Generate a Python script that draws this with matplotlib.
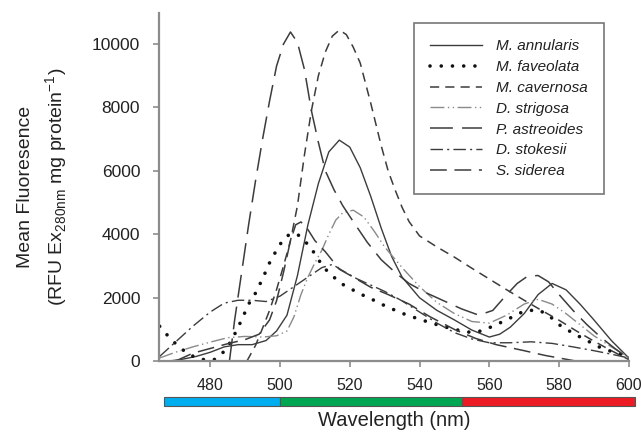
import matplotlib
matplotlib.use("Agg")
import matplotlib.pyplot as plt
import matplotlib.transforms as mtransforms
from matplotlib.patches import Rectangle

plt.rcParams['font.family'] = ['Liberation Sans', 'DejaVu Sans']

# emission spectra (wavelength nm, RFU)
wl_annularis = [468, 472, 476, 480, 484, 488, 492, 496, 499, 502, 505, 508, 511, 514, 517, 520, 523, 526,
                529, 532, 535, 540, 545, 550, 555, 560, 563, 566, 570, 574, 578, 582, 586, 590, 595, 600]
fl_annularis = [0, 60, 150, 280, 450, 520, 520, 650, 950, 1450, 2700, 4300, 5600, 6600, 6970, 6750, 6100, 5200,
                4200, 3300, 2650, 2000, 1600, 1300, 980, 760, 850, 1070, 1500, 2100, 2450, 2250, 1800, 1300, 650, 100]

wl_faveolata = [465.5, 468, 470, 473, 476, 479, 481, 483, 485, 487, 489, 491, 493, 495, 497, 499, 501, 503, 505,
                507, 509, 511, 513, 515, 517, 520, 523, 526, 530, 535, 540, 545, 550, 555, 558, 562, 566, 570,
                574, 577, 580, 584, 588, 592, 596, 600]
fl_faveolata = [1100, 780, 560, 280, 100, 30, 40, 190, 450, 850, 1300, 1800, 2150, 2600, 3100, 3500, 3850, 4020, 4000,
                3800, 3550, 3200, 2900, 2700, 2480, 2300, 2120, 1970, 1750, 1510, 1320, 1150, 1000, 900, 960, 1150, 1360, 1580,
                1620, 1450, 1150, 880, 650, 420, 270, 150]

wl_cavernosa = [490.5, 493, 495, 497, 499, 501, 503, 505, 507, 509, 511, 513, 515, 517, 519, 521, 523, 526, 529,
                531, 533, 535, 537, 540, 545, 550, 555, 560, 565, 570, 575, 580, 585, 590, 595, 600]
fl_cavernosa = [0, 500, 1040, 1600, 2250, 3000, 3800, 4900, 6500, 7900, 9000, 9750, 10250, 10440, 10300, 9900, 9400, 8140, 6800,
                6000, 5400, 4850, 4400, 3950, 3600, 3280, 2930, 2590, 2250, 1920, 1600, 1290, 950, 630, 330, 50]

wl_strigosa = [465.5, 470, 475, 480, 485, 490, 495, 499, 502, 504, 506, 508, 510, 512, 514, 516, 518, 521, 524,
               527, 530, 535, 540, 545, 550, 555, 560, 565, 570, 574, 578, 582, 586, 590, 595, 600]
fl_strigosa = [100, 280, 450, 600, 740, 780, 760, 800, 950, 1400, 2100, 2650, 3100, 3500, 4000, 4450, 4680, 4760, 4550,
               4100, 3600, 2950, 2350, 1850, 1500, 1250, 1200, 1450, 1800, 1950, 1800, 1500, 1150, 800, 450, 120]

wl_astreoides = [485.5, 487, 489, 491, 493, 495, 497, 499, 501, 503, 505, 507, 509, 511, 513, 515.5, 518, 521, 525,
                 529, 533, 537, 542, 547, 552, 557, 561, 565, 568, 571, 574, 577, 580, 584, 588, 592, 596, 600]
fl_astreoides = [0, 1300, 2800, 4300, 5700, 7000, 8200, 9300, 10000, 10380, 10050, 9200, 7900, 6900, 6000, 5400, 4900, 4400, 3750,
                 3200, 2800, 2450, 2150, 1900, 1650, 1450, 1600, 2100, 2450, 2680, 2700, 2500, 2100, 1600, 1150, 750, 400, 80]

wl_stokesii = [465.5, 470, 475, 480, 484, 488, 492, 496, 500, 504, 508, 512, 515, 518, 522, 526, 530, 535, 540,
               545, 550, 555, 560, 566, 572, 578, 584, 590, 595, 600]
fl_stokesii = [150, 600, 1100, 1550, 1830, 1920, 1920, 1880, 2050, 2350, 2650, 2950, 3050, 2850, 2600, 2400, 2200, 1900, 1550,
               1200, 900, 700, 580, 580, 610, 560, 450, 330, 220, 100]

wl_siderea = [470, 475, 480, 485, 490, 494, 497, 499, 501, 503, 504.5, 506, 508, 510, 513, 517, 521, 526, 531,
              537, 543, 550, 556, 562, 570, 576, 582, 585]
fl_siderea = [0, 250, 400, 550, 680, 850, 1300, 1900, 2800, 3800, 4300, 4390, 4150, 3800, 3450, 2900, 2650, 2330, 2100,
              1800, 1400, 1000, 720, 520, 330, 180, 60, 0]

species = ['M. annularis', 'M. faveolata', 'M. cavernosa', 'D. strigosa', 'P. astreoides', 'D. stokesii', 'S. siderea']
spectra = [(wl_annularis, fl_annularis), (wl_faveolata, fl_faveolata), (wl_cavernosa, fl_cavernosa),
           (wl_strigosa, fl_strigosa), (wl_astreoides, fl_astreoides), (wl_stokesii, fl_stokesii),
           (wl_siderea, fl_siderea)]

# colour bands under the x axis
band_edges = [466.7, 500, 552.3, 601.7]
band_colors = ['#00aeef', '#00a651', '#ed1c24']

line_col = '#3c3c3c'
styles = [
    dict(ls='-', lw=1.0, color=line_col),
    dict(ls=(0, (0.01, 3.1)), lw=2.6, color='#111111', dash_capstyle='round'),
    dict(ls=(0, (6, 4)), lw=1.1, color=line_col),
    dict(ls=(0, (10, 2.5, 1, 2.5, 1, 2.5)), lw=1.0, color='#8a8a8a'),
    dict(ls=(0, (15, 6)), lw=1.1, color=line_col),
    dict(ls=(0, (9, 3, 1.5, 3)), lw=1.0, color=line_col),
    dict(ls=(0, (11, 5)), lw=1.1, color=line_col),
]

fig = plt.figure(figsize=(6.41, 4.32), dpi=100)
ax = fig.add_axes([0.248, 0.164, 0.733, 0.806])

for name, (x, y), st in zip(species, spectra, styles):
    ax.plot(x, y, label=name, **st)

ax.set_xlim(465.3, 600)
ax.set_ylim(0, 10980)
ax.set_xticks(range(480, 601, 20))
ax.set_yticks(range(0, 10001, 2000))

for side in ['top', 'right']:
    ax.spines[side].set_visible(False)
for side in ['left', 'bottom']:
    ax.spines[side].set_color('#8c8c8c')
    ax.spines[side].set_linewidth(1.6)
ax.tick_params(direction='out', length=4, width=1.2, color='#8c8c8c', labelcolor='#222222')
ax.tick_params(axis='y', labelsize=12.5, pad=9.5)
ax.tick_params(axis='x', labelsize=11.5, pad=8)

ax.set_ylabel('Mean Fluoresence\n(RFU Ex$_{\\mathregular{280nm}}$ mg protein$^{\\mathregular{-1}}$)',
              fontsize=14, color='#222222', labelpad=16, linespacing=1.45)
fig.text(0.615, 0.004, 'Wavelength (nm)', fontsize=14.5, color='#222222', ha='center', va='bottom')

trans = mtransforms.blended_transform_factory(ax.transData, ax.transAxes)
for i, c in enumerate(band_colors):
    ax.add_patch(Rectangle((band_edges[i], -0.129), band_edges[i + 1] - band_edges[i], 0.026,
                           transform=trans, facecolor=c, edgecolor='#555555', lw=0.8, clip_on=False))

leg = ax.legend(loc='upper right', bbox_to_anchor=(0.947, 0.971), borderaxespad=0,
                fancybox=False, frameon=True, handlelength=3.4,
                handletextpad=0.9, labelspacing=0.45, borderpad=1.05,
                prop={'style': 'italic', 'size': 11})
leg.get_frame().set_edgecolor('#555555')
leg.get_frame().set_linewidth(1.2)
for t in leg.get_texts():
    t.set_color('#222222')

fig.savefig('out.png', dpi=100)
